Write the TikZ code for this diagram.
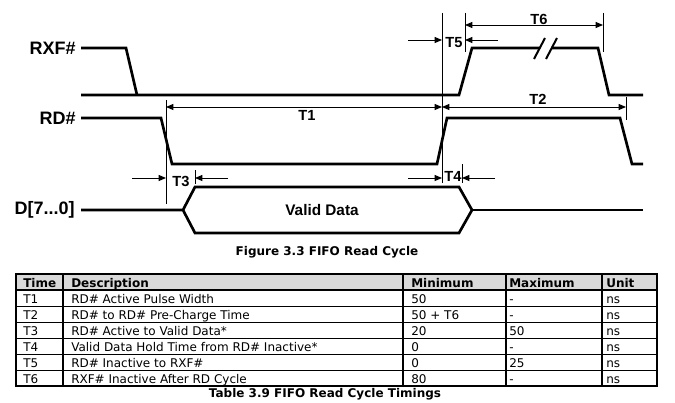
\documentclass[tikz,border=0pt]{standalone}
\usepackage{fontspec}
\setmainfont{DejaVu Sans}
\newfontfamily\arialfont{Liberation Sans}
\usetikzlibrary{arrows.meta,positioning}
\definecolor{headgray}{RGB}{217,217,217}
\tikzset{
	wave/.style={line width=2pt},
	dim/.style={line width=0.7pt, >={Triangle[length=5.5pt,width=4.5pt]}},
	siglabel/.style={font=\arialfont\bfseries\fontsize{13.5}{15}\selectfont, anchor=east, inner sep=0pt},
	tlabel/.style={font=\arialfont\bfseries\fontsize{11}{13}\selectfont, inner sep=0pt},
	cell/.style={font=\fontsize{9}{11}\selectfont, anchor=base west, inner sep=0pt},
	headcell/.style={cell, font=\bfseries\fontsize{9}{11}\selectfont},
}
\begin{document}
\begin{tikzpicture}[x=0.75pt, y=-0.75pt]
	\useasboundingbox (0,0) rectangle (675,403);

	\node[siglabel] (rxf)  at (76,48)  {RXF\#};
	\node[siglabel] (rd)   at (76,118) {RD\#};
	\node[siglabel] (data) at (75,210) {D[7...0]};

	\draw[wave] (81,48) -- (126,48) -- (137,95);
	\draw[wave] (81,95) -- (459,95) -- (472,48) -- (540,48);
	\draw[wave] (551,48) -- (598,48) -- (609,95) -- (643,95);
	\draw[line width=1.5pt] (534,59) -- (545,38) (546,59) -- (557,38);
	\draw[wave] (81,118) -- (161,118) -- (172,164) -- (437,164) -- (447,118) -- (620,118) -- (632,164) -- (643,164);
	\draw[wave] (81,210) -- (183,210) -- (195,187) -- (459,187) -- (472,210) -- (459,233) -- (195,233) -- (183,210);
	\draw[wave] (472,210) -- (643,210);
	\node[tlabel, font=\arialfont\bfseries\fontsize{11.5}{13}\selectfont] (valid) at (322,210) {Valid Data};

	\coordinate (rdfall) at (166,107);
	\coordinate (rdrise) at (442,107);
	\coordinate (rdnext) at (626,107);
	\coordinate (rxfup)  at (465,25);
	\coordinate (rxfdn)  at (603,25);
	\draw[dim] (166,100) -- (166,204);
	\draw[dim] (442,13) -- (442,183);
	\draw[dim] (465,13) -- (465,52);
	\draw[dim] (603,13) -- (603,52);
	\draw[dim] (626,97) -- (626,120);
	\draw[dim] (195,170) -- (195,184);
	\draw[dim] (462,164) -- (462,183);

	\draw[dim,<->] (rdfall) -- (rdrise);
	\draw[dim,<->] (rdrise) -- (rdnext);
	\draw[dim,<->] (rxfup) -- (rxfdn);
	\node[tlabel] (t1) at (307,115) {T1};
	\node[tlabel] (t2) at (538,99)  {T2};
	\node[tlabel] (t6) at (539,19)  {T6};

	\coordinate (t5l) at (408,40);
	\coordinate (t5r) at (498,40);
	\coordinate (t3l) at (132,178);
	\coordinate (t3r) at (228,178);
	\coordinate (t4l) at (408,178);
	\coordinate (t4r) at (495,178);
	\draw[dim,->] (t5l) -- (442,40);
	\draw[dim,->] (t5r) -- (465,40);
	\draw[dim,->] (t3l) -- (166,178);
	\draw[dim,->] (t3r) -- (195,178);
	\draw[dim,->] (t4l) -- (442,178);
	\draw[dim,->] (t4r) -- (462,178);
	\node[tlabel] (t5) at (454,43)  {T5};
	\node[tlabel] (t3) at (181,181) {T3};
	\node[tlabel] (t4) at (453,176) {T4};

	\node[font=\bfseries\fontsize{9}{11}\selectfont, inner sep=0pt] (figcap) at (327,252) {Figure 3.3 FIFO Read Cycle};

	\fill[headgray] (16,274) rectangle (657,290);
	\foreach \y in {306,322,...,370}
		\draw[line width=0.6pt] (16,\y) -- (657,\y);
	\draw[line width=1.2pt] (16,290) -- (657,290);
	\foreach \x in {63,403,506,602}
		\draw[line width=1.1pt] (\x,274) -- (\x,386);
	\draw[line width=2pt] (16,274) rectangle (657,386);

	\node[headcell] (hTime) at (23,287)  {Time};
	\node[headcell] (hDesc) at (71,287)  {Description};
	\node[headcell] (hMin)  at (411,287) {Minimum};
	\node[headcell] (hMax)  at (509,287) {Maximum};
	\node[headcell] (hUnit) at (606,287) {Unit};
	\foreach \t/\d/\mn/\mx [count=\i] in {
		T1/RD\# Active Pulse Width/50/-,
		T2/RD\# to RD\# Pre-Charge Time/50 + T6/-,
		T3/RD\# Active to Valid Data*/20/50,
		T4/Valid Data Hold Time from RD\# Inactive*/0/-,
		T5/RD\# Inactive to RXF\#/0/25,
		T6/RXF\# Inactive After RD Cycle/80/-}
	{
		\node[cell] (time\i) at (23,287+16*\i)  {\t};
		\node[cell] (desc\i) at (71,287+16*\i)  {\d};
		\node[cell] (min\i)  at (411,287+16*\i) {\mn};
		\node[cell] (max\i)  at (509,287+16*\i) {\mx};
		\node[cell] (unit\i) at (606,287+16*\i) {ns};
	}

	\node[font=\bfseries\fontsize{9}{11}\selectfont, inner sep=0pt] (tabcap) at (325,394) {Table 3.9 FIFO Read Cycle Timings};
\end{tikzpicture}
\end{document}
